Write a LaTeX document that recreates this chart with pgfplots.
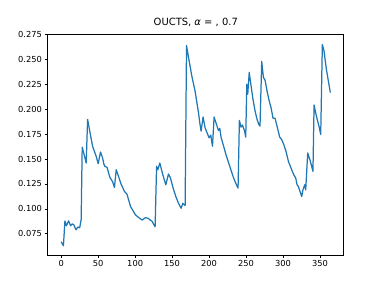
\documentclass[border=0pt]{standalone}
\usepackage{pgfplots}
\pgfplotsset{compat=1.18}
\usepackage{fontspec}
\setmainfont{DejaVu Sans}
\definecolor{mplblue}{HTML}{1F77B4}
\begin{document}
\begin{tikzpicture}
\path[use as bounding box] (0,0) rectangle (460.8pt,345.6pt);
\begin{axis}[
  at={(57.6pt,38.0pt)}, anchor=south west,
  scale only axis, width=357.1pt, height=266.1pt,
  xmin=-18.2, xmax=382.2, ymin=0.0537, ymax=0.2751,
  xtick={0,50,...,350},
  ytick={0.075,0.1,0.125,0.15,0.175,0.2,0.225,0.25,0.275},
  yticklabel style={/pgf/number format/.cd,fixed,fixed zerofill,precision=3},
  /pgf/number format/assume math mode=true,
  tick align=outside, tick pos=left,
  major tick length=3.5pt,
  every tick/.style={black, line width=0.8pt},
  axis line style={line width=0.8pt},
  tick label style={font=\fontsize{10}{12}\selectfont},
  title={OUCTS, {\itshape α} = , 0.7},
  title style={font=\fontsize{12}{14}\selectfont, yshift=0pt},
]
\addplot[mplblue, line width=1.5pt, line join=round] coordinates {
(0,0.067) (3,0.0629) (5,0.0878) (7,0.083) (10,0.088) (12.7,0.083) (15,0.085) (17,0.084)
(20,0.079) (22.6,0.0818) (25,0.081) (27,0.0895) (28.4,0.1619) (31.6,0.1528) (33.8,0.146)
(35.7,0.1898) (38.8,0.1773) (42.4,0.1629) (47.3,0.1528) (50,0.1454) (53.2,0.1571) (56,0.151)
(57.7,0.145) (59,0.1427) (62,0.1417) (65.8,0.1316) (69.4,0.1275) (72,0.1215) (74.4,0.1393)
(78,0.1316) (81,0.1248) (85.6,0.1174) (89,0.1147) (93.8,0.1023) (100.5,0.0939) (105,0.0912)
(109.5,0.0888) (114,0.0912) (117.6,0.0905) (120.8,0.0885) (122.6,0.0878) (127,0.082)
(129,0.1427) (130.7,0.1393) (133.4,0.146) (137.4,0.1343) (141.5,0.1242) (145.1,0.135)
(147.8,0.1309) (151.4,0.1208) (155,0.1124) (158.6,0.1056) (162.2,0.1006) (164.5,0.1056)
(167.6,0.1033) (169.5,0.2639) (173,0.2487) (176.6,0.2336) (181,0.2184) (185.7,0.1965)
(187.5,0.186) (189.2,0.178) (191.9,0.1922) (194.6,0.1814) (197.3,0.1763) (200,0.1713)
(202.3,0.174) (204.6,0.1629) (206.8,0.1922) (210,0.1848) (212.7,0.1787) (214.5,0.1808)
(216.2,0.172) (219,0.1646) (223.5,0.1528) (228,0.1427) (232.4,0.1326) (236,0.1258)
(239.2,0.1208) (241,0.1888) (243.2,0.182) (245.1,0.1841) (247.8,0.1787) (249.6,0.172)
(251,0.2252) (252.3,0.215) (254.3,0.237) (256.8,0.2235) (259,0.2117) (262.2,0.1982)
(264.9,0.1898) (267.2,0.1848) (268.9,0.1831) (271.2,0.248) (273.5,0.2319) (275.7,0.2292)
(278.4,0.2184) (281.1,0.209) (283.8,0.2016) (286.5,0.1909) (289.2,0.1909) (291.9,0.1831)
(295.5,0.172) (298.2,0.1696) (301,0.1646) (304,0.1578) (307.3,0.1477) (310.8,0.141)
(314.5,0.1343) (317.2,0.1309) (319,0.1242) (320.8,0.1225) (325.3,0.1124) (327,0.1191)
(329.3,0.1242) (330.7,0.1191) (333.4,0.1561) (337,0.1477) (340.5,0.1376) (342,0.2043)
(345.1,0.1932) (348.6,0.1831) (351,0.1747) (353.2,0.2649) (355.4,0.2588) (358.6,0.2404)
(361.3,0.2285) (364,0.2167)
};
\end{axis}
\end{tikzpicture}
\end{document}
